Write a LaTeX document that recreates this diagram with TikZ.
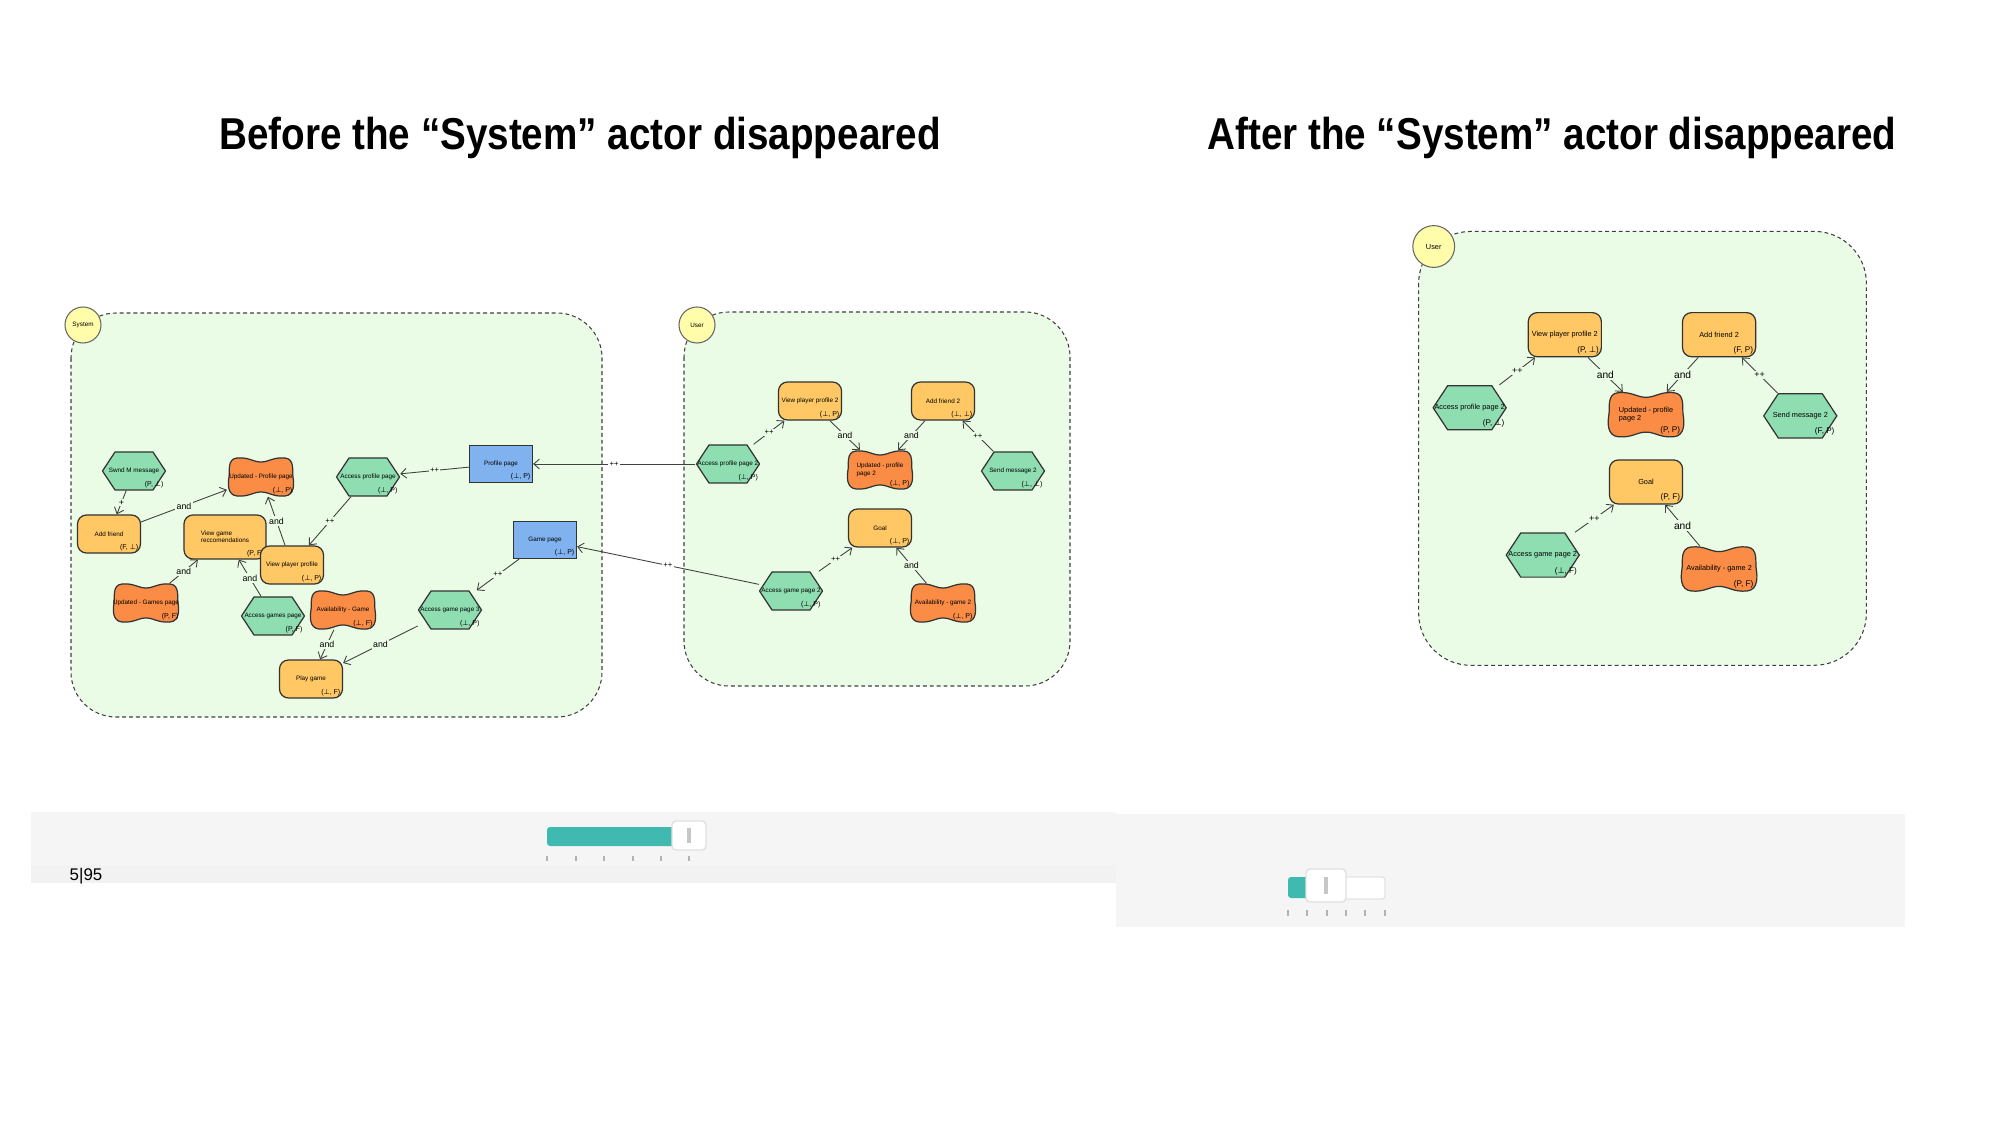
\documentclass[tikz,border=0pt]{standalone}
\usepackage{fontspec}
\setmainfont{Liberation Sans}
\newfontfamily\titlefont[FakeStretch=0.865]{Liberation Sans}
\newfontfamily\tackfont{DejaVu Sans}
\usetikzlibrary{arrows.meta}

\definecolor{actorbg}{RGB}{234,252,230}
\definecolor{taskgreen}{RGB}{143,222,178}
\definecolor{goalyellow}{RGB}{255,200,100}
\definecolor{softorange}{RGB}{250,140,70}
\definecolor{resblue}{RGB}{128,178,240}
\definecolor{actoryellow}{RGB}{255,253,170}
\definecolor{slidteal}{RGB}{64,186,176}
\definecolor{panelgrey}{RGB}{245,245,245}
\definecolor{panelstrip}{RGB}{242,242,242}

\newcommand{\bt}{{\tackfont ⊥}}

\tikzset{
  softpic/.pic={
    \draw[draw=black!80, line width=0.35pt, fill=softorange]
      (-24,-19) .. controls (-12,-20) and (-8,-15) .. (0,-15)
      .. controls (8,-15) and (12,-20) .. (24,-19)
      .. controls (34,-18) and (31,-6) .. (32,0)
      .. controls (33,6) and (34,18) .. (24,19)
      .. controls (12,20) and (8,15) .. (0,15)
      .. controls (-8,15) and (-12,20) .. (-24,19)
      .. controls (-34,18) and (-33,6) .. (-32,0)
      .. controls (-31,-6) and (-34,-18) .. (-24,-19) -- cycle;
  },
  hexpic/.pic={
    \draw[draw=black!80, line width=0.35pt, fill=taskgreen]
      (-31.5,0) -- (-19,-19) -- (19,-19) -- (31.5,0) -- (19,19) -- (-19,19) -- cycle;
  }
}

\begin{document}
\begin{tikzpicture}[x=0.01cm, y=-0.01cm, >={Straight Barb[length=1.6pt,width=2.8pt]},
    title/.style={anchor=base, inner sep=0pt, font=\titlefont\bfseries\fontsize{12.7}{15}\selectfont},
    valtxt/.style={anchor=south east, inner sep=0.6pt, font=\fontsize{2}{2.4}\selectfont},
    val/.style={label={[valtxt]south east:{#1}}},
    node base/.style={minimum width=0.63cm, minimum height=0.38cm, inner sep=0.5pt, align=left, font=\fontsize{1.8}{2.1}\selectfont},
    goal/.style={node base, draw=black!80, line width=0.35pt, fill=goalyellow, rounded corners=0.09cm},
    task/.style={node base},
    soft/.style={node base},
    res/.style={node base, minimum height=0.37cm, draw=black!80, line width=0.35pt, fill=resblue},
    actor/.style={circle, draw=black!60, line width=0.3pt, fill=actoryellow, minimum size=0.36cm, inner sep=0pt, font=\fontsize{1.8}{2.1}\selectfont},
    bound/.style={draw=black!75, line width=0.3pt, dash pattern=on 1.1pt off 0.85pt, fill=actorbg, rounded corners=0.45cm},
    link/.style={->, draw=black!75, line width=0.25pt},
    lab/.style={fill=actorbg, inner sep=0.4pt, font=\fontsize{2.5}{3}\selectfont},
    pp/.style={lab, font=\fontsize{2.2}{2.6}\selectfont}]
  \useasboundingbox (0,0) rectangle (2000,1125);

  % titles
  \node[title] (ttlbefore) at (580,150) {Before the “System” actor disappeared};
  \node[title] (ttlafter) at (1552,150) {After the “System” actor disappeared};

  % System actor
  \draw[bound] (71,313) rectangle (602,717);
  \node[actor] (sysactor) at (83,325) {System};
  \pic at (134,471) {hexpic};
  \pic at (368,477) {hexpic};
  \pic at (273,616) {hexpic};
  \pic at (450,610) {hexpic};
  \pic at (261,477) {softpic};
  \pic at (146,603) {softpic};
  \pic at (343,610) {softpic};
  \node[task, val={(P, \bt)}] (swnd) at (134,471) {Swnd M message};
  \node[soft, val={(\bt, P)}] (updprof) at (261,477) {Updated - Profile page};
  \node[task, val={(\bt, P)}] (accprof) at (368,477) {Access profile page};
  \node[res, val={(\bt, P)}] (profpage) at (501,464) {Profile page};
  \node[goal, val={(F, \bt)}] (addfr) at (109,534) {Add friend};
  \node[goal, minimum width=0.82cm, minimum height=0.44cm, val={(P, F)}] (viewrec) at (225,537) {View game\\reccomendations};
  \node[goal, val={(\bt, P)}] (viewpp) at (292,565) {View player profile};
  \node[res, val={(\bt, P)}] (gamepage) at (545,540) {Game page};
  \node[soft, val={(P, F)}] (updgames) at (146,603) {Updated - Games page};
  \node[task, val={(P, F)}] (accgames) at (273,616) {Access games page};
  \node[soft, val={(\bt, F)}] (availg) at (343,610) {Availability - Game};
  \node[task, val={(\bt, P)}] (accgame) at (450,610) {Access game page 3};
  \node[goal, val={(\bt, F)}] (playg) at (311,679) {Play game};
  \draw[link] (swnd) -- node[lab]{+} (addfr);
  \draw[link] (addfr) -- node[lab]{and} (updprof);
  \draw[link] (viewpp) -- node[lab]{and} (updprof);
  \draw[link] (accprof) -- node[pp]{++} (viewpp);
  \draw[link] (profpage) -- node[pp]{++} (accprof);
  \draw[link] (updgames) -- node[lab]{and} (viewrec);
  \draw[link] (accgames) -- node[lab]{and} (viewrec);
  \draw[link] (gamepage) -- node[pp]{++} (accgame);
  \draw[link] (availg) -- node[lab]{and} (playg);
  \draw[link] (accgame) -- node[lab]{and} (playg);

  % User actor, before
  \begin{scope}[shift={(880,528)}]
    \draw[bound] (-196,-216) rectangle (190,158);
    \node[actor] (buser) at (-183,-203) {User};
    \pic at (-152,-64) {hexpic};
    \pic at (133,-57) {hexpic};
    \pic at (-89,63) {hexpic};
    \pic at (0,-58) {softpic};
    \pic at (63,75) {softpic};
    \node[goal, val={(\bt, P)}] (bvpp) at (-70,-127) {View player profile 2};
    \node[goal, val={(\bt, \bt)}] (baf) at (63,-127) {Add friend 2};
    \node[task, val={(\bt, P)}] (bapp) at (-152,-64) {Access profile page 2};
    \node[soft, val={(\bt, P)}] (bupp) at (0,-58) {Updated - profile\\page 2};
    \node[task, val={(\bt, \bt)}] (bsm) at (133,-57) {Send message 2};
    \node[goal, val={(\bt, P)}] (bgoal) at (0,0) {Goal};
    \node[task, val={(\bt, P)}] (bagp) at (-89,63) {Access game page 2};
    \node[soft, val={(\bt, P)}] (bavail) at (63,75) {Availability - game 2};
    \draw[link] (bapp) -- node[pp]{++} (bvpp);
    \draw[link] (bvpp) -- node[lab]{and} (bupp);
    \draw[link] (baf) -- node[lab]{and} (bupp);
    \draw[link] (bsm) -- node[pp]{++} (baf);
    \draw[link] (bagp) -- node[pp]{++} (bgoal);
    \draw[link] (bavail) -- node[lab]{and} (bgoal);
  \end{scope}
  \draw[link] (bapp) -- node[pp, fill=white]{++} (profpage);
  \draw[link] (bagp) -- node[pp, fill=white]{++} (gamepage);

  % User actor, after
  \begin{scope}[shift={(1646,482)}, scale=1.16, transform shape]
    \draw[bound, rounded corners=0.52cm] (-196,-216) rectangle (190,158);
    \node[actor] (auser) at (-183,-203) {User};
    \pic at (-152,-64) {hexpic};
    \pic at (133,-57) {hexpic};
    \pic at (-89,63) {hexpic};
    \pic at (0,-58) {softpic};
    \pic at (63,75) {softpic};
    \node[goal, val={(P, \bt)}] (avpp) at (-70,-127) {View player profile 2};
    \node[goal, val={(F, P)}] (aaf) at (63,-127) {Add friend 2};
    \node[task, val={(P, \bt)}] (aapp) at (-152,-64) {Access profile page 2};
    \node[soft, val={(P, P)}] (aupp) at (0,-58) {Updated - profile\\page 2};
    \node[task, val={(F, P)}] (asm) at (133,-57) {Send message 2};
    \node[goal, val={(P, F)}] (agoal) at (0,0) {Goal};
    \node[task, val={(\bt, F)}] (aagp) at (-89,63) {Access game page 2};
    \node[soft, val={(P, F)}] (aavail) at (63,75) {Availability - game 2};
    \draw[link] (aapp) -- node[pp]{++} (avpp);
    \draw[link] (avpp) -- node[lab]{and} (aupp);
    \draw[link] (aaf) -- node[lab]{and} (aupp);
    \draw[link] (asm) -- node[pp]{++} (aaf);
    \draw[link] (aagp) -- node[pp]{++} (agoal);
    \draw[link] (aavail) -- node[lab]{and} (agoal);
  \end{scope}

  % sliders
  \fill[panelgrey] (31,812) rectangle (1116,865);
  \fill[panelstrip] (31,865) rectangle (1116,883);
  \fill[panelgrey] (1116,814) rectangle (1905,927);
  \node[inner sep=0pt, font=\fontsize{4.8}{5.5}\selectfont] (frameno) at (86,876) {5|95};
  \fill[slidteal, rounded corners=0.03cm] (547,827) rectangle (678,846);
  \draw[black!12, fill=white, rounded corners=0.04cm] (672,821) rectangle (706,850);
  \draw[black!22] (688,828) -- (688,843) (690,828) -- (690,843);
  \foreach \x in {547,576,604,633,661,689}
    \draw[black!30] (\x,856) -- (\x,861);
  \fill[slidteal, rounded corners=0.03cm] (1288,877) rectangle (1312,898);
  \draw[black!10, fill=white, rounded corners=0.03cm] (1340,877) rectangle (1385,899);
  \draw[black!12, fill=white, rounded corners=0.04cm] (1306,869) rectangle (1346,902);
  \draw[black!22] (1325,877) -- (1325,894) (1327,877) -- (1327,894);
  \foreach \x in {1288,1307,1327,1346,1365,1385}
    \draw[black!30] (\x,910) -- (\x,916);
\end{tikzpicture}
\end{document}
